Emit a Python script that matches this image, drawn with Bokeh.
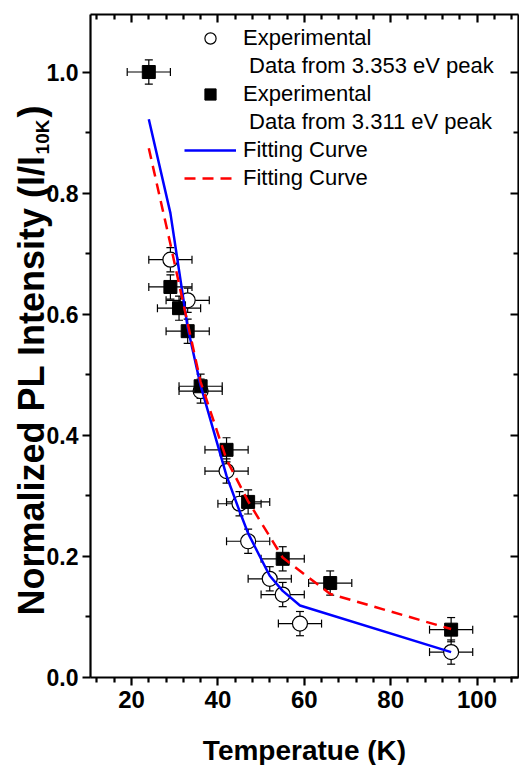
import math
from bokeh.plotting import figure
from bokeh.models import (ColumnDataSource, Whisker, TeeHead, Legend, LegendItem,
                          LinearAxis, FixedTicker, CustomJSTickFormatter)
from bokeh.core.properties import value
from bokeh.embed import file_html
from bokeh.resources import INLINE

# ---------------- data ----------------
circ_T = [29, 33, 36, 42, 45, 47, 52, 55, 59, 94]
circ_I = [0.690, 0.623, 0.473, 0.341, 0.287, 0.225, 0.163, 0.137, 0.089, 0.042]
sq_T = [24, 29, 31, 33, 36, 42, 47, 55, 66, 94]
sq_I = [1.000, 0.645, 0.610, 0.572, 0.481, 0.376, 0.290, 0.196, 0.156, 0.079]
T_err = 5.0
I_err = 0.02
fit1_T = [24, 29, 33, 36, 42, 45, 47, 52, 55, 59, 94]
fit1_I = [0.922, 0.767, 0.578, 0.482, 0.333, 0.275, 0.238, 0.168, 0.143, 0.119, 0.042]
fit2_T = [24, 29, 31, 33, 36, 42, 47, 55, 66, 94]
fit2_I = [0.874, 0.716, 0.650, 0.585, 0.488, 0.360, 0.291, 0.198, 0.138, 0.080]

x_ticks = [20, 40, 60, 80, 100]
x_minor = [12, 16, 24, 28, 32, 36, 44, 48, 52, 56, 64, 68, 72, 76, 84, 88, 92, 96, 104, 108]
y_ticks = [0.0, 0.2, 0.4, 0.6, 0.8, 1.0]
y_tick_labels = ["0.0", "0.2", "0.4", "0.6", "0.8", "1.0"]
y_minor = [0.1, 0.3, 0.5, 0.7, 0.9]

legend_labels = ["Experimental", "\u00a0Data from 3.353 eV peak",
                 "Experimental", "\u00a0Data from 3.311 eV peak",
                 "Fitting Curve", "Fitting Curve"]
x_title = "Temperatue (K)"
y_title_main = "Normalized PL Intensity (I/I"
y_title_sub = "10K"
y_title_end = ")"

FONT = "Liberation Sans"
X0, X1 = 10.5, 109.6      # axis extent
Y0, Y1 = 0.0, 1.095

# ---------------- layout (canvas px) ----------------
CW, CH = 519, 765
FL, FR, FT, FB = 90, 518, 14, 677          # where the axes box sits on the canvas
px_x = (FR - FL) / (X1 - X0)
px_y = (FB - FT) / (Y1 - Y0)
# the Bokeh frame covers the whole canvas; axes are fixed at the box edges
XR = (X0 - FL / px_x, X1 + (CW - FR) / px_x)
YR = (Y0 - (CH - FB) / px_y, Y1 + FT / px_y)


def dx(px):
    return XR[0] + px / px_x


def dy(py):
    return YR[0] + (CH - py) / px_y


p = figure(width=CW, height=CH, x_range=XR, y_range=YR,
           output_backend="svg", toolbar_location=None,
           min_border_left=0, min_border_right=0, min_border_top=0, min_border_bottom=0)
p.grid.visible = False
p.outline_line_color = None
p.background_fill_color = "white"
p.border_fill_color = "white"


def style_axis(ax, outside=True, labels=True):
    ax.axis_line_width = 2.2
    ax.axis_line_color = "black"
    ax.major_tick_line_width = 2.2
    ax.minor_tick_line_width = 2.2
    ax.major_tick_line_color = "black"
    ax.minor_tick_line_color = "black"
    if outside:
        ax.major_tick_out, ax.major_tick_in = 8, 0
        ax.minor_tick_out, ax.minor_tick_in = 5, 0
    else:
        ax.major_tick_out, ax.major_tick_in = 0, 8
        ax.minor_tick_out, ax.minor_tick_in = 0, 5
    if labels:
        ax.major_label_text_font = FONT
        ax.major_label_text_font_style = "bold"
        ax.major_label_text_color = "black"
    else:
        ax.formatter = CustomJSTickFormatter(code="return ''")
        ax.major_label_text_font_size = "0px"
        ax.major_label_standoff = 0


xa = p.xaxis[0]
xa.ticker = FixedTicker(ticks=x_ticks, minor_ticks=x_minor)
xa.bounds = (X0, X1)
xa.fixed_location = Y0
style_axis(xa)
xa.major_label_text_font_size = "24px"
xa.major_label_standoff = 5

ya = p.yaxis[0]
ya.ticker = FixedTicker(ticks=y_ticks, minor_ticks=y_minor)
ya.bounds = (Y0, Y1)
ya.fixed_location = X0
style_axis(ya)
ya.major_label_text_font_size = "23px"
ya.major_label_standoff = 4
ya.major_label_overrides = {t: s for t, s in zip(y_ticks, y_tick_labels)}

top = LinearAxis(ticker=FixedTicker(ticks=x_ticks, minor_ticks=x_minor),
                 bounds=(X0, X1), fixed_location=Y1)
style_axis(top, outside=False, labels=False)
p.add_layout(top, "above")
right = LinearAxis(ticker=FixedTicker(ticks=y_ticks, minor_ticks=y_minor),
                   bounds=(Y0, Y1), fixed_location=X1)
style_axis(right, outside=False, labels=False)
p.add_layout(right, "right")

# ---------------- data glyphs ----------------
csrc = ColumnDataSource(dict(
    T=circ_T, I=circ_I,
    Tl=[t - T_err for t in circ_T], Tu=[t + T_err for t in circ_T],
    Il=[v - I_err for v in circ_I], Iu=[v + I_err for v in circ_I]))
ssrc = ColumnDataSource(dict(
    T=sq_T, I=sq_I,
    Tl=[t - T_err for t in sq_T], Tu=[t + T_err for t in sq_T],
    Il=[v - I_err for v in sq_I], Iu=[v + I_err for v in sq_I]))


def errbars(src):
    for base, lo, up, dim in (("I", "Tl", "Tu", "width"), ("T", "Il", "Iu", "height")):
        w = Whisker(source=src, base=base, lower=lo, upper=up, dimension=dim,
                    line_color="black", line_width=1.2,
                    upper_head=TeeHead(size=8, line_width=1.2, line_color="black"),
                    lower_head=TeeHead(size=8, line_width=1.2, line_color="black"))
        p.add_layout(w)


errbars(csrc)
r_circ = p.scatter("T", "I", source=csrc, marker="circle", size=15,
                   fill_color="white", line_color="black", line_width=1.2)
errbars(ssrc)
r_sq = p.scatter("T", "I", source=ssrc, marker="square", size=13,
                 fill_color="black", line_color="black", line_width=1)

r_fit1 = p.line(fit1_T, fit1_I, line_color="#0000FF", line_width=2.5)
r_fit2 = p.line(fit2_T, fit2_I, line_color="#FF0000", line_width=2.5, line_dash="11 7")

# ---------------- legend (location relative to frame bottom-left) ----------------
items = [LegendItem(label=legend_labels[0], renderers=[r_circ]),
         LegendItem(label=legend_labels[1], renderers=[]),
         LegendItem(label=legend_labels[2], renderers=[r_sq]),
         LegendItem(label=legend_labels[3], renderers=[]),
         LegendItem(label=legend_labels[4], renderers=[r_fit1]),
         LegendItem(label=legend_labels[5], renderers=[r_fit2])]
leg = Legend(items=items, location=(184, CH - 192), padding=0, margin=0, spacing=0,
             glyph_width=52, glyph_height=28, label_height=28, label_standoff=7,
             label_text_font=FONT, label_text_font_size="22px", label_text_color="black",
             border_line_color=None, background_fill_alpha=0)
p.add_layout(leg)

# ---------------- axis titles as text glyphs ----------------
# Arial/Liberation Sans Bold advance widths (per 1000 em)
W = {"N": 722, "o": 611, "r": 389, "m": 889, "a": 556, "l": 278, "i": 278, "z": 500,
     "e": 556, "d": 611, " ": 278, "P": 667, "L": 611, "I": 278, "n": 611, "t": 333,
     "s": 556, "y": 556, "(": 333, "/": 278, ")": 333, "1": 556, "0": 556, "K": 722}


def tw(s, size):
    return sum(W.get(c, 556) for c in s) * size / 1000.0


SHIFT = 0.4            # empirical baseline offset of Bokeh text (in em)
main_size, sub_size, xt_size = 36, 19, 28
base_px = 45           # wanted baseline of rotated y title (canvas x)
start_py = 615         # where the y title starts (canvas y)
py2 = start_py - tw(y_title_main, main_size) - 1
py3 = py2 - tw(y_title_sub, sub_size) - 2
tsrc = ColumnDataSource(dict(
    x=[dx(base_px - SHIFT * main_size), dx(base_px + 5 - SHIFT * sub_size),
       dx(base_px - SHIFT * main_size)],
    y=[dy(start_py), dy(py2), dy(py3)],
    text=[y_title_main, y_title_sub, y_title_end],
    size=[f"{main_size}px", f"{sub_size}px", f"{main_size}px"]))
p.text(x="x", y="y", text="text", source=tsrc, angle=math.pi / 2,
       text_font=value(FONT), text_font_style="bold", text_font_size="size",
       text_color="black", text_align="left", text_baseline="alphabetic")

xsrc = ColumnDataSource(dict(x=[(X0 + X1) / 2], y=[dy(761 - SHIFT * xt_size)], text=[x_title]))
p.text(x="x", y="y", text="text", source=xsrc,
       text_font=value(FONT), text_font_style="bold", text_font_size=f"{xt_size}px",
       text_color="black", text_align="center", text_baseline="alphabetic")

open("out.html", "w").write(file_html(p, INLINE))
